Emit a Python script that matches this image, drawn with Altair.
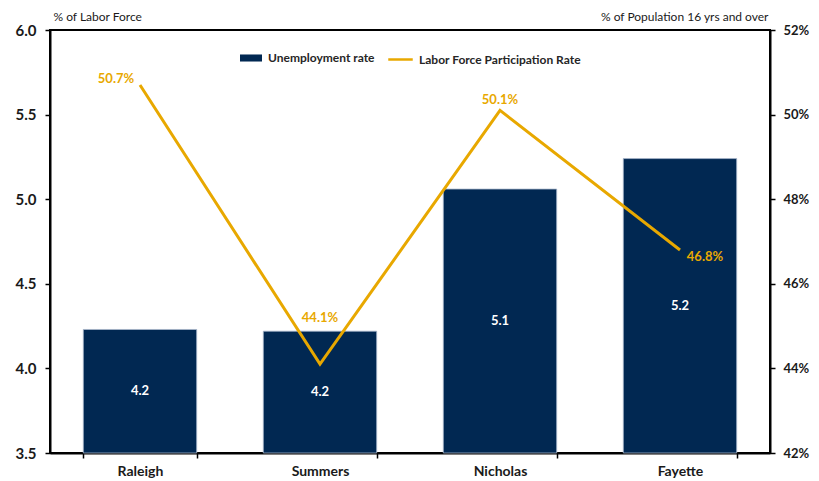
import altair as alt
import pandas as pd

# County figures
counties = ["Raleigh", "Summers", "Nicholas", "Fayette"]
unemployment_rate = [4.23, 4.22, 5.06, 5.24]        # % of labor force
participation_rate = [50.7, 44.1, 50.1, 46.8]       # % of population 16 yrs and over

left_ticks = [3.5, 4.0, 4.5, 5.0, 5.5, 6.0]
right_ticks = [42, 44, 46, 48, 50, 52]

NAVY = "#012852"
GOLD = "#E8A800"
FONT = "Lato"
INK = "#1a1a1a"

df = pd.DataFrame({
    "county": counties,
    "unemp": unemployment_rate,
    "lfpr": participation_rate,
})

x_scale = alt.Scale(domain=counties, paddingInner=0.37, paddingOuter=0.185)

x_enc = alt.X(
    "county:N",
    sort=counties,
    scale=x_scale,
    axis=alt.Axis(
        title=None, labelAngle=0, labelFontSize=14, labelFontWeight="bold",
        labelColor=INK, labelPadding=6, tickBand="extent", tickSize=5,
        tickColor="black", domainColor="black", domainWidth=2, tickWidth=1.5,
    ),
)

y_left = alt.Y(
    "unemp:Q",
    scale=alt.Scale(domain=[3.5, 6.0], zero=False, nice=False),
    axis=alt.Axis(
        orient="left", values=left_ticks, format=".1f",
        title="% of Labor Force", titleAngle=0, titleAlign="left",
        titleBaseline="bottom", titleX=3, titleY=-7, titleFontSize=12,
        titleFontWeight="normal", titleColor=INK, labelFontSize=15,
        labelFontWeight="bold", labelColor=INK, tickSize=5,
        tickColor="black", tickWidth=1.5, domainColor="black",
        domainWidth=2, grid=False, labelPadding=9,
    ),
)

bars = alt.Chart(df).transform_calculate(
    series="'Unemployment rate'"
).mark_bar(stroke="#a9b8cc", strokeWidth=0.8).encode(
    x=x_enc,
    y=y_left,
    y2=alt.datum(3.5),
    fill=alt.Fill(
        "series:N",
        scale=alt.Scale(domain=["Unemployment rate"], range=[NAVY]),
        legend=alt.Legend(
            title=None, orient="none", legendX=190, legendY=17,
            symbolType="M-1,-0.32H1V0.32H-1Z", symbolSize=484,
            symbolStrokeWidth=0, labelFontSize=12, labelFontWeight="bold",
            labelColor="#262626", labelFont=FONT, padding=0, labelOffset=6,
            labelLimit=300,
        ),
    ),
)

bar_labels = alt.Chart(df).transform_calculate(
    mid="(datum.unemp + 3.5) / 2"
).mark_text(
    color="white", fontSize=13, fontWeight="bold", font=FONT, baseline="middle"
).encode(
    x=alt.X("county:N", sort=counties, scale=x_scale),
    y=alt.Y("mid:Q"),
    text=alt.Text("unemp:Q", format=".1f"),
)

y_right_scale = alt.Scale(domain=[42, 52], zero=False, nice=False)
y_right_axis = alt.Axis(
    orient="right", values=right_ticks, labelExpr="datum.value + '%'",
    title="% of Population 16 yrs and over", titleAngle=0,
    titleAlign="right", titleBaseline="bottom", titleX=-2, titleY=-7,
    titleFontSize=12, titleFontWeight="normal", titleColor=INK,
    labelFontSize=13, labelFontWeight="bold", labelColor=INK,
    tickSize=5, tickColor="black", tickWidth=1.5, domainColor="black",
    domainWidth=2, grid=False, labelPadding=8,
)

line = alt.Chart(df).transform_calculate(
    lseries="'Labor Force Participation Rate'"
).mark_line(strokeWidth=3).encode(
    x=alt.X("county:N", sort=counties, scale=x_scale),
    y=alt.Y("lfpr:Q", scale=y_right_scale, axis=y_right_axis),
    stroke=alt.Stroke(
        "lseries:N",
        scale=alt.Scale(domain=["Labor Force Participation Rate"], range=[GOLD]),
        legend=alt.Legend(
            title=None, orient="none", legendX=337, legendY=16,
            symbolType="stroke", symbolSize=600, symbolStrokeWidth=2.5,
            labelFontSize=12, labelFontWeight="bold", labelColor="#262626",
            labelFont=FONT, padding=0, labelOffset=5, labelLimit=300,
        ),
    ),
)

# Label offsets (dx, dy) for each point of the participation line
label_offsets = {
    "Raleigh": (-24, -6),
    "Summers": (0, -46),
    "Nicholas": (0, -10),
    "Fayette": (25, 7),
}

line_label_layers = [
    alt.Chart(df).transform_filter(alt.datum.county == name).transform_calculate(
        lbl="format(datum.lfpr, '.1f') + '%'"
    ).mark_text(
        color=GOLD, fontSize=13, fontWeight="bold", font=FONT,
        baseline="middle", dx=dx, dy=dy,
    ).encode(
        x=alt.X("county:N", sort=counties, scale=x_scale),
        y=alt.Y("lfpr:Q", scale=y_right_scale),
        text=alt.Text("lbl:N"),
    )
    for name, (dx, dy) in label_offsets.items()
]

left_layer = alt.layer(bars, bar_labels)
right_layer = alt.layer(line, *line_label_layers)

chart = alt.layer(left_layer, right_layer).resolve_scale(
    y="independent", fill="independent", stroke="independent"
).properties(
    width=720, height=423,
    autosize=alt.AutoSizeParams(type="none"),
    padding={"left": 50, "top": 30, "right": 49, "bottom": 28},
    background="white",
).configure(
    font=FONT,
    view=alt.ViewConfig(stroke="black", strokeWidth=2),
)

chart.save("out.html", embed_options={"renderer": "svg", "actions": False})
